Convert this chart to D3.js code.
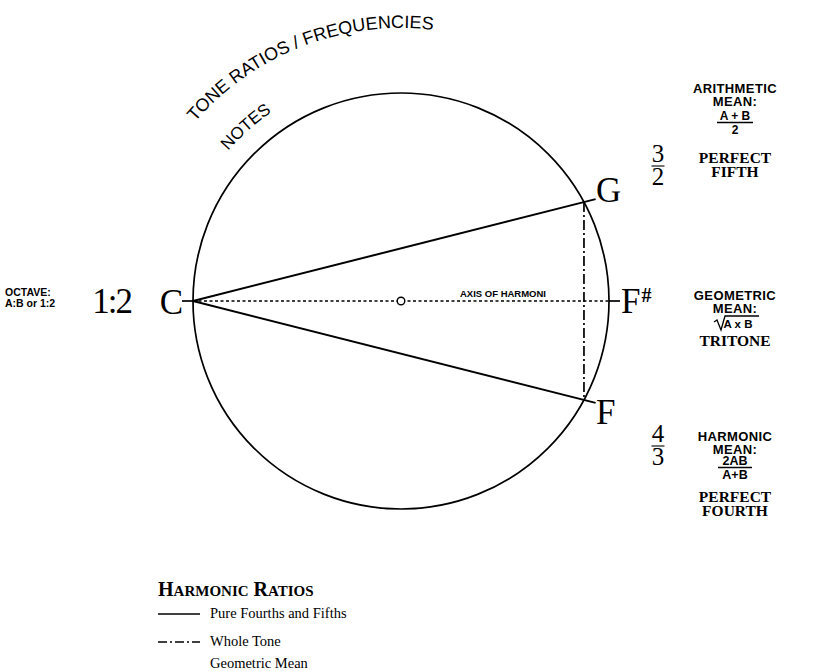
<!DOCTYPE html>
<html><head><meta charset="utf-8">
<script src="https://cdn.jsdelivr.net/npm/d3@7"></script>
<style>body{margin:0;background:#fff}svg{display:block}</style>
</head><body>
<svg id="chart" width="821" height="671"></svg>
<script>
// ---- data ----
const noteNames   = ["C", "G", "F", "F"];
const noteSharps  = ["", "", "#", ""];
const noteAngles  = [180, 28.4, 0, -28.4];          // degrees on the circle
const fractionNums = ["3", "4"];
const fractionDens = ["2", "3"];
const octaveRatio = "1:2";
const octaveLabel = ["OCTAVE:", "A:B or 1:2"];
const arithLabel  = ["ARITHMETIC", "MEAN:"];
const geoLabel    = ["GEOMETRIC", "MEAN:"];
const harmLabel   = ["HARMONIC", "MEAN:"];
const fifthName   = ["PERFECT", "FIFTH"];
const tritoneName = ["TRITONE"];
const fourthName  = ["PERFECT", "FOURTH"];
const arcTitles   = ["TONE RATIOS / FREQUENCIES", "NOTES"];
const axisLabel   = "AXIS OF HARMONI";
const legendItems = ["Pure Fourths and Fifths", "Whole Tone", "Geometric Mean"];
const legendStyles = ["solid", "dashdot", "none"];

// ---- drawing ----
const svg = d3.select("#chart");
const cx = 401, cy = 301, R = 208;
const ang = d3.scaleLinear().domain([0, 360]).range([0, 2 * Math.PI]);
const pt = (deg, r) => [cx + r * Math.cos(ang(deg)), cy - r * Math.sin(ang(deg))];
const SANS = "'Liberation Sans', Arial, sans-serif";
const SERIF = "'Liberation Serif', 'Times New Roman', serif";

svg.append("rect").attr("width", 821).attr("height", 671).attr("fill", "#fff");

// main circle
svg.append("circle").attr("cx", cx).attr("cy", cy).attr("r", R)
  .attr("fill", "none").attr("stroke", "#000").attr("stroke-width", 1.7);

const P = noteAngles.map(a => pt(a, R));
const [pC, pG, pFs, pF] = P;

// axis of harmony (dotted)
svg.append("line").attr("x1", pC[0]).attr("y1", pC[1]).attr("x2", pFs[0]).attr("y2", pFs[1])
  .attr("stroke", "#000").attr("stroke-width", 1.4).attr("stroke-dasharray", "3,2.5");

// solid ticks at C and F#
svg.append("line").attr("x1", pC[0] - 11).attr("y1", pC[1]).attr("x2", pC[0]).attr("y2", pC[1])
  .attr("stroke", "#000").attr("stroke-width", 1.7);
svg.append("line").attr("x1", pFs[0]).attr("y1", pFs[1]).attr("x2", pFs[0] + 11).attr("y2", pFs[1])
  .attr("stroke", "#000").attr("stroke-width", 1.7);

// fourths and fifths: C -> G, C -> F, extended slightly beyond circle
[pG, pF].forEach(p => {
  const dx = p[0] - pC[0], dy = p[1] - pC[1], L = Math.hypot(dx, dy), e = (L + 12) / L;
  svg.append("line").attr("x1", pC[0]).attr("y1", pC[1])
    .attr("x2", pC[0] + dx * e).attr("y2", pC[1] + dy * e)
    .attr("stroke", "#000").attr("stroke-width", 2);
});

// whole tone: G -> F dash-dot
svg.append("line").attr("x1", pG[0]).attr("y1", pG[1]).attr("x2", pF[0]).attr("y2", pF[1])
  .attr("stroke", "#000").attr("stroke-width", 1.7).attr("stroke-dasharray", "10,3,2,3");

// center point
svg.append("circle").attr("cx", cx).attr("cy", cy).attr("r", 3.8)
  .attr("fill", "#fff").attr("stroke", "#000").attr("stroke-width", 1.4);

svg.append("text").attr("x", 503).attr("y", 297).attr("text-anchor", "middle")
  .attr("font-family", SANS).attr("font-weight", "bold").attr("font-size", 9.5).text(axisLabel);

// note labels
const noteOffsets = [[-10, 13, "end"], [12, 0, "start"], [12, 12, "start"], [12, 24, "start"]];
noteNames.forEach((n, i) => {
  const t = svg.append("text").attr("x", P[i][0] + noteOffsets[i][0]).attr("y", P[i][1] + noteOffsets[i][1])
    .attr("text-anchor", noteOffsets[i][2]).attr("font-family", SERIF).attr("font-size", 35).text(n);
  if (noteSharps[i]) t.append("tspan").attr("font-size", 20).attr("font-weight", "bold")
    .attr("dy", -11).attr("dx", 1).text(noteSharps[i]);
});

// octave
svg.append("text").attr("x", 131).attr("y", 313).attr("text-anchor", "end")
  .attr("font-family", SERIF).attr("font-size", 35).attr("letter-spacing", -2).text(octaveRatio);
octaveLabel.forEach((s, i) => svg.append("text").attr("x", 5).attr("y", 296 + i * 10.5)
  .attr("font-family", SANS).attr("font-weight", "bold").attr("font-size", 10.5).text(s));

// fractions
const fracY = [162, 442];
fractionNums.forEach((n, i) => {
  const x = 658, y = fracY[i];
  svg.append("text").attr("x", x).attr("y", y).attr("text-anchor", "middle")
    .attr("font-family", SERIF).attr("font-size", 25).text(n);
  svg.append("line").attr("x1", x - 6.5).attr("x2", x + 6.5).attr("y1", y + 4).attr("y2", y + 4)
    .attr("stroke", "#000").attr("stroke-width", 1.1);
  svg.append("text").attr("x", x).attr("y", y + 23).attr("text-anchor", "middle")
    .attr("font-family", SERIF).attr("font-size", 25).text(fractionDens[i]);
});

// right side blocks
const bx = 735;
function sansLines(lines, y0, dy, size) {
  lines.forEach((s, i) => svg.append("text").attr("x", bx).attr("y", y0 + i * dy).attr("text-anchor", "middle")
    .attr("font-family", SANS).attr("font-weight", "bold").attr("font-size", size || 13)
    .attr("letter-spacing", 0.4).text(s));
}
function serifLines(lines, y0, dy) {
  lines.forEach((s, i) => svg.append("text").attr("x", bx).attr("y", y0 + i * dy).attr("text-anchor", "middle")
    .attr("font-family", SERIF).attr("font-weight", "bold").attr("font-size", 15.5).text(s));
}
function frac(num, den, y, size, half) {
  svg.append("text").attr("x", bx).attr("y", y).attr("text-anchor", "middle")
    .attr("font-family", SANS).attr("font-weight", "bold").attr("font-size", size).text(num);
  svg.append("line").attr("x1", bx - half).attr("x2", bx + half).attr("y1", y + 2.5).attr("y2", y + 2.5)
    .attr("stroke", "#000").attr("stroke-width", 1.4);
  svg.append("text").attr("x", bx).attr("y", y + 14).attr("text-anchor", "middle")
    .attr("font-family", SANS).attr("font-weight", "bold").attr("font-size", size).text(den);
}

sansLines(arithLabel, 93, 13);
frac("A + B", "2", 120, 12, 18);
serifLines(fifthName, 163, 14);

sansLines(geoLabel, 300, 13);
svg.append("text").attr("x", bx + 3).attr("y", 328).attr("text-anchor", "middle")
  .attr("font-family", SANS).attr("font-weight", "bold").attr("font-size", 11.5).text("A x B");
svg.append("path").attr("d", `M${bx - 21},322 L${bx - 18},320 L${bx - 14},330 L${bx - 10},316 L${bx + 24},316`)
  .attr("fill", "none").attr("stroke", "#000").attr("stroke-width", 1.3);
serifLines(tritoneName, 346, 14);

sansLines(harmLabel, 441, 12.5);
frac("2AB", "A+B", 465, 12.5, 17);
serifLines(fourthName, 502, 13.5);

// curved titles
const arcDefs = [
  {r: 273, a0: -139, a1: -70, size: 18},
  {r: 229, a0: -139, a1: -100, size: 17}
];
const defs = svg.append("defs");
arcTitles.forEach((s, i) => {
  const d = arcDefs[i];
  const p = d3.path();
  p.arc(cx, cy, d.r, ang(d.a0), ang(d.a1), false);
  defs.append("path").attr("id", "arc" + i).attr("d", p.toString());
  svg.append("text").attr("font-family", SANS).attr("font-size", d.size)
    .append("textPath").attr("href", "#arc" + i).text(s);
});

// legend
const lx = 158;
const head = svg.append("text").attr("x", lx).attr("y", 596).attr("font-family", SERIF).attr("font-weight", 600);
[["H", 20], ["ARMONIC", 15], [" R", 20], ["ATIOS", 15]].forEach(([s, f]) =>
  head.append("tspan").attr("font-size", f).text(s));

const legendY = [614, 642, 664];
legendItems.forEach((s, i) => {
  const y = legendY[i];
  if (legendStyles[i] !== "none") {
    svg.append("line").attr("x1", lx).attr("x2", lx + 42).attr("y1", y).attr("y2", y)
      .attr("stroke", "#000").attr("stroke-width", 1.5)
      .attr("stroke-dasharray", legendStyles[i] === "dashdot" ? "9,3,2,3" : null);
  }
  svg.append("text").attr("x", lx + 52).attr("y", y + 4).attr("font-family", SERIF)
    .attr("font-size", 14.5).text(s);
});
</script>
</body></html>
